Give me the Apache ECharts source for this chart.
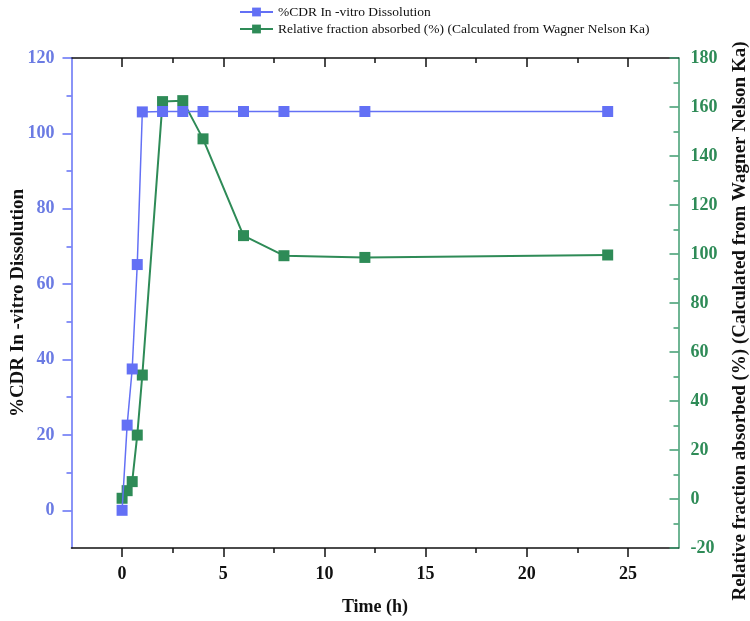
<!DOCTYPE html>
<html>
<head>
<meta charset="utf-8">
<script src="https://cdn.jsdelivr.net/npm/echarts@6/dist/echarts.min.js"></script>
<style>
  html, body { margin: 0; padding: 0; background: #fff; }
  #chart { width: 750px; height: 621px; }
</style>
</head>
<body>
<div id="chart"></div>
<script>
// time points (h)
const timeH = [0, 0.25, 0.5, 0.75, 1, 2, 3, 4, 6, 8, 12, 24]
// %CDR in-vitro dissolution (left axis)
const cdr = [0, 22.6, 37.5, 65.2, 105.7, 105.8, 105.8, 105.8, 105.8, 105.8, 105.8, 105.8]
// relative fraction absorbed, Wagner Nelson (right axis)
const fracAbs = [0.3, 3.4, 7.1, 26.1, 50.6, 162.2, 162.6, 147.0, 107.5, 99.3, 98.6, 99.6]

const xMajor = [0, 5, 10, 15, 20, 25]
const xMinor = [2.5, 7.5, 12.5, 17.5, 22.5]
const leftMajor = [0, 20, 40, 60, 80, 100, 120]
const leftMinor = [10, 30, 50, 70, 90, 110]
const rightMajor = [-20, 0, 20, 40, 60, 80, 100, 120, 140, 160, 180]
const rightMinor = [-10, 10, 30, 50, 70, 90, 110, 130, 150, 170]

const BLUE = '#6370f5'
const BLUE_TXT = '#6b7be3'
const GREEN = '#2e8b57'
const GREEN_AX = '#3f9c70'
const FONT = '"Liberation Serif", "DejaVu Serif", serif'

const chart = echarts.init(document.getElementById('chart'))

const tickLabel = (color) => ({
  color: color, fontFamily: FONT, fontWeight: 'bold', fontSize: 18
})

// extra axes that only draw the minor ticks
const minorX = (pos, inside, vals) => ({
  type: 'value', position: pos, min: -2.5, max: 27.5,
  axisLine: { show: false, onZero: false }, splitLine: { show: false },
  axisLabel: { show: false },
  axisTick: { show: true, inside: inside, length: 5, customValues: vals, lineStyle: { color: '#111', width: 1.5 } }
})
const minorY = (pos, min, max, color, inside, vals) => ({
  type: 'value', position: pos, min: min, max: max,
  axisLine: { show: false, onZero: false }, splitLine: { show: false },
  axisLabel: { show: false },
  axisTick: { show: true, inside: inside, length: 5, customValues: vals, lineStyle: { color: color, width: 1.5 } }
})

const option = {
  backgroundColor: '#fff',
  animation: false,
  legend: {
    orient: 'vertical',
    left: 234,
    top: 0,
    itemWidth: 33,
    itemHeight: 11,
    itemGap: 3,
    textStyle: { fontFamily: FONT, fontSize: 13.5, color: '#111' },
    data: ['%CDR In -vitro Dissolution', 'Relative fraction absorbed (%) (Calculated from Wagner Nelson Ka)']
  },
  grid: { left: 71.5, right: 71.5, top: 58, bottom: 73, containLabel: false, outerBoundsMode: 'none' },
  xAxis: [
    {
      type: 'value', position: 'bottom', min: -2.5, max: 27.5,
      name: 'Time (h)', nameLocation: 'middle', nameGap: 50,
      nameTextStyle: { fontFamily: FONT, fontWeight: 'bold', fontSize: 18, color: '#111' },
      axisLine: { show: true, onZero: false, lineStyle: { color: '#111', width: 1.5 } },
      axisTick: { show: true, length: 9, customValues: xMajor, lineStyle: { color: '#111', width: 1.5 } },
      axisLabel: Object.assign(tickLabel('#111'), { margin: 17, customValues: xMajor }),
      splitLine: { show: false }
    },
    minorX('bottom', false, xMinor),
    {
      type: 'value', position: 'top', min: -2.5, max: 27.5,
      axisLine: { show: true, onZero: false, lineStyle: { color: '#111', width: 1.5 } },
      axisTick: { show: true, inside: true, length: 9, customValues: xMajor, lineStyle: { color: '#111', width: 1.5 } },
      axisLabel: { show: false },
      splitLine: { show: false }
    },
    minorX('top', true, xMinor)
  ],
  yAxis: [
    {
      type: 'value', position: 'left', min: -10, max: 120,
      name: '%CDR In -vitro Dissolution', nameLocation: 'middle', nameGap: 44,
      nameMoveOverlap: false,
      nameTextStyle: { fontFamily: FONT, fontWeight: 'bold', fontSize: 19, color: '#111' },
      axisLine: { show: true, onZero: false, lineStyle: { color: BLUE, width: 1.5 } },
      axisTick: { show: true, length: 9, customValues: leftMajor, lineStyle: { color: BLUE, width: 1.5 } },
      axisLabel: Object.assign(tickLabel(BLUE_TXT), { margin: 17, customValues: leftMajor }),
      splitLine: { show: false }
    },
    minorY('left', -10, 120, BLUE, false, leftMinor),
    {
      type: 'value', position: 'right', min: -20, max: 180,
      name: 'Relative fraction absorbed (%) (Calculated from Wagner Nelson Ka)',
      nameLocation: 'middle', nameGap: 52, nameRotate: 90,
      nameTextStyle: { fontFamily: FONT, fontWeight: 'bold', fontSize: 19, color: '#111', padding: [0, 36, 0, 0] },
      axisLine: { show: true, onZero: false, lineStyle: { color: GREEN_AX, width: 1.5 } },
      axisTick: { show: true, inside: true, length: 9, customValues: rightMajor, lineStyle: { color: GREEN_AX, width: 1.5 } },
      axisLabel: Object.assign(tickLabel(GREEN), { margin: 12, customValues: rightMajor }),
      splitLine: { show: false }
    },
    minorY('right', -20, 180, GREEN_AX, true, rightMinor)
  ],
  series: [
    {
      name: '%CDR In -vitro Dissolution',
      type: 'line',
      xAxisIndex: 0, yAxisIndex: 0,
      data: timeH.map((t, i) => [t, cdr[i]]),
      symbol: 'rect', symbolSize: 11,
      lineStyle: { color: BLUE, width: 1.5 },
      itemStyle: { color: BLUE },
      z: 3
    },
    {
      name: 'Relative fraction absorbed (%) (Calculated from Wagner Nelson Ka)',
      type: 'line',
      xAxisIndex: 0, yAxisIndex: 2,
      data: timeH.map((t, i) => [t, fracAbs[i]]),
      symbol: 'rect', symbolSize: 11,
      lineStyle: { color: GREEN, width: 2 },
      itemStyle: { color: GREEN },
      z: 2
    }
  ]
}

chart.setOption(option)
</script>
</body>
</html>
